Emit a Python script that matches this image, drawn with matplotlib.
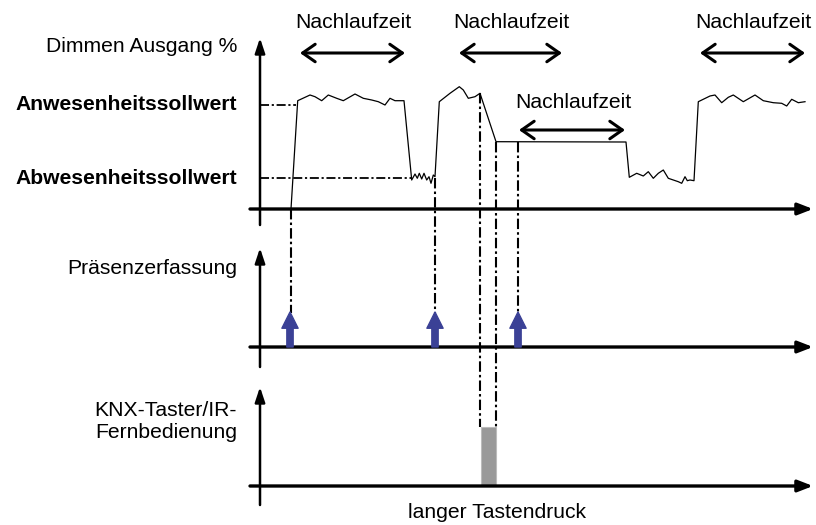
import numpy as np
import matplotlib
matplotlib.use("Agg")
from matplotlib import pyplot as plt

plt.rcParams['font.family'] = ['Liberation Sans', 'DejaVu Sans']

# diagram drawn in a pixel-like coordinate system: x = time, y = row (down)
# dimming output trace (time, level row)
sig_t = [291, 297.7, 310, 315, 321.7, 328.3, 336.7, 343.3, 355, 363.3, 371.7, 378.3, 385, 390, 395, 404,
         411.7, 415, 417.3, 419.3, 421.7, 424, 426.7, 429, 431, 433.3, 435,
         439.3, 450, 459.3, 463.3, 468.3, 475, 480,
         496, 626,
         629.3, 636.7, 643.3, 648.3, 653.3, 658.3, 663.3, 668.3, 673.3, 678.3, 681.7, 685, 687.3, 690, 694,
         698.3, 710, 715, 721.7, 728.3, 733.3, 743.3, 755, 763.3, 773.3, 781.7, 786.7, 791.7, 798.3, 805]
sig_y = [209, 100.7, 95, 96.7, 100.7, 95, 98.3, 100.7, 94, 98.3, 100, 101.7, 105, 98.3, 100.7, 100.7,
         180, 174, 178.3, 173.3, 179, 173.3, 180, 176.7, 183.3, 175, 176.7,
         101.7, 93.3, 86.7, 90, 98.3, 96.7, 93.3,
         141.7, 142,
         177.3, 173.3, 176, 171.7, 178.3, 173.3, 170, 178.3, 180, 181.7, 183.3, 176.7, 180.7, 180, 180.7,
         101.7, 96, 95, 102.7, 97.3, 95, 101.7, 95, 100.7, 102.7, 103.3, 106, 99.3, 102.7, 101.7]

level_rows = [105, 178]
level_labels = ['Anwesenheitssollwert', 'Abwesenheitssollwert']
level_ends = [296, 411]

presence_t = [290, 435, 518]
button_start, button_end = 481, 496

# dash-dot guide lines: time, from row, to row
guide_t = [291, 435, 480, 496, 518]
guide_from = [209, 178, 93, 142, 142]
guide_to = [313, 313, 427, 427, 313]

# Nachlaufzeit spans: start, end, row of arrow
run_start = [300, 459, 700, 519]
run_end = [405, 562, 805, 625]
run_row = [53, 53, 53, 130]

axis_rows = [209, 347, 486]
axis_tops = [38, 248, 387]
axis_bottoms = [225, 367, 505]
panel_labels = ['Dimmen Ausgang %', 'Präsenzerfassung', 'KNX-Taster/IR-\nFernbedienung']
panel_label_rows = [47, 268, 421]

fig = plt.figure(figsize=(8.16, 5.25), dpi=100)
ax = fig.add_axes([0, 0, 1, 1])
ax.set_xlim(0, 816)
ax.set_ylim(525, 0)
ax.axis('off')

fs = 15.2
ax_x = 260
for row, top, bot, lab, lrow in zip(axis_rows, axis_tops, axis_bottoms, panel_labels, panel_label_rows):
    # time axis
    ax.annotate('', xy=(813, row), xytext=(250, row),
                arrowprops=dict(arrowstyle='-|>,head_length=0.9,head_width=0.35', lw=2.4, color='black',
                                shrinkA=0, shrinkB=0))
    # value axis
    ax.annotate('', xy=(ax_x, top), xytext=(ax_x, bot),
                arrowprops=dict(arrowstyle='-|>,head_length=0.9,head_width=0.3', lw=1.8, color='black',
                                shrinkA=0, shrinkB=0))
    ax.text(237, lrow, lab, ha='right', va='center', fontsize=fs, linespacing=1.2)

# setpoint levels
for row, lab, end in zip(level_rows, level_labels, level_ends):
    ax.plot([ax_x, end], [row, row], color='black', lw=1.3, ls=(0, (5, 1.5, 1.2, 1.5)))
    ax.text(237, row, lab, ha='right', va='center', fontsize=fs, fontweight='bold')

# guide lines
for t, y0, y1 in zip(guide_t, guide_from, guide_to):
    ax.plot([t, t], [y0, y1], color='black', lw=1.5, ls=(0, (5, 1.5, 1.2, 1.5)))

# dimming output signal
ax.plot(sig_t, sig_y, color='black', lw=0.9, solid_joinstyle='round')

# presence detection pulses
for t in presence_t:
    ax.annotate('', xy=(t, 312), xytext=(t, axis_rows[1]),
                arrowprops=dict(arrowstyle='simple,head_length=0.9,head_width=0.9,tail_width=0.35',
                                color='#3b4196', shrinkA=0, shrinkB=0, mutation_scale=13))

# long key press
ax.bar(button_start, axis_rows[2] - 427, width=button_end - button_start, bottom=427,
       align='edge', color='#999999', edgecolor='#bbbbbb', lw=0.8)
ax.text(497, 512, 'langer Tastendruck', ha='center', va='center', fontsize=fs)

# Nachlaufzeit arrows
for s, e, r in zip(run_start, run_end, run_row):
    ax.annotate('', xy=(e, r), xytext=(s, r),
                arrowprops=dict(arrowstyle='<->,head_length=0.5,head_width=0.35', lw=2.2, color='black',
                                shrinkA=0, shrinkB=0, mutation_scale=18))
    ax.text((s + e) / 2 + 1, r - 31 if r < 100 else r - 27, 'Nachlaufzeit', ha='center', va='center', fontsize=fs)

fig.savefig('out.png', dpi=100)
